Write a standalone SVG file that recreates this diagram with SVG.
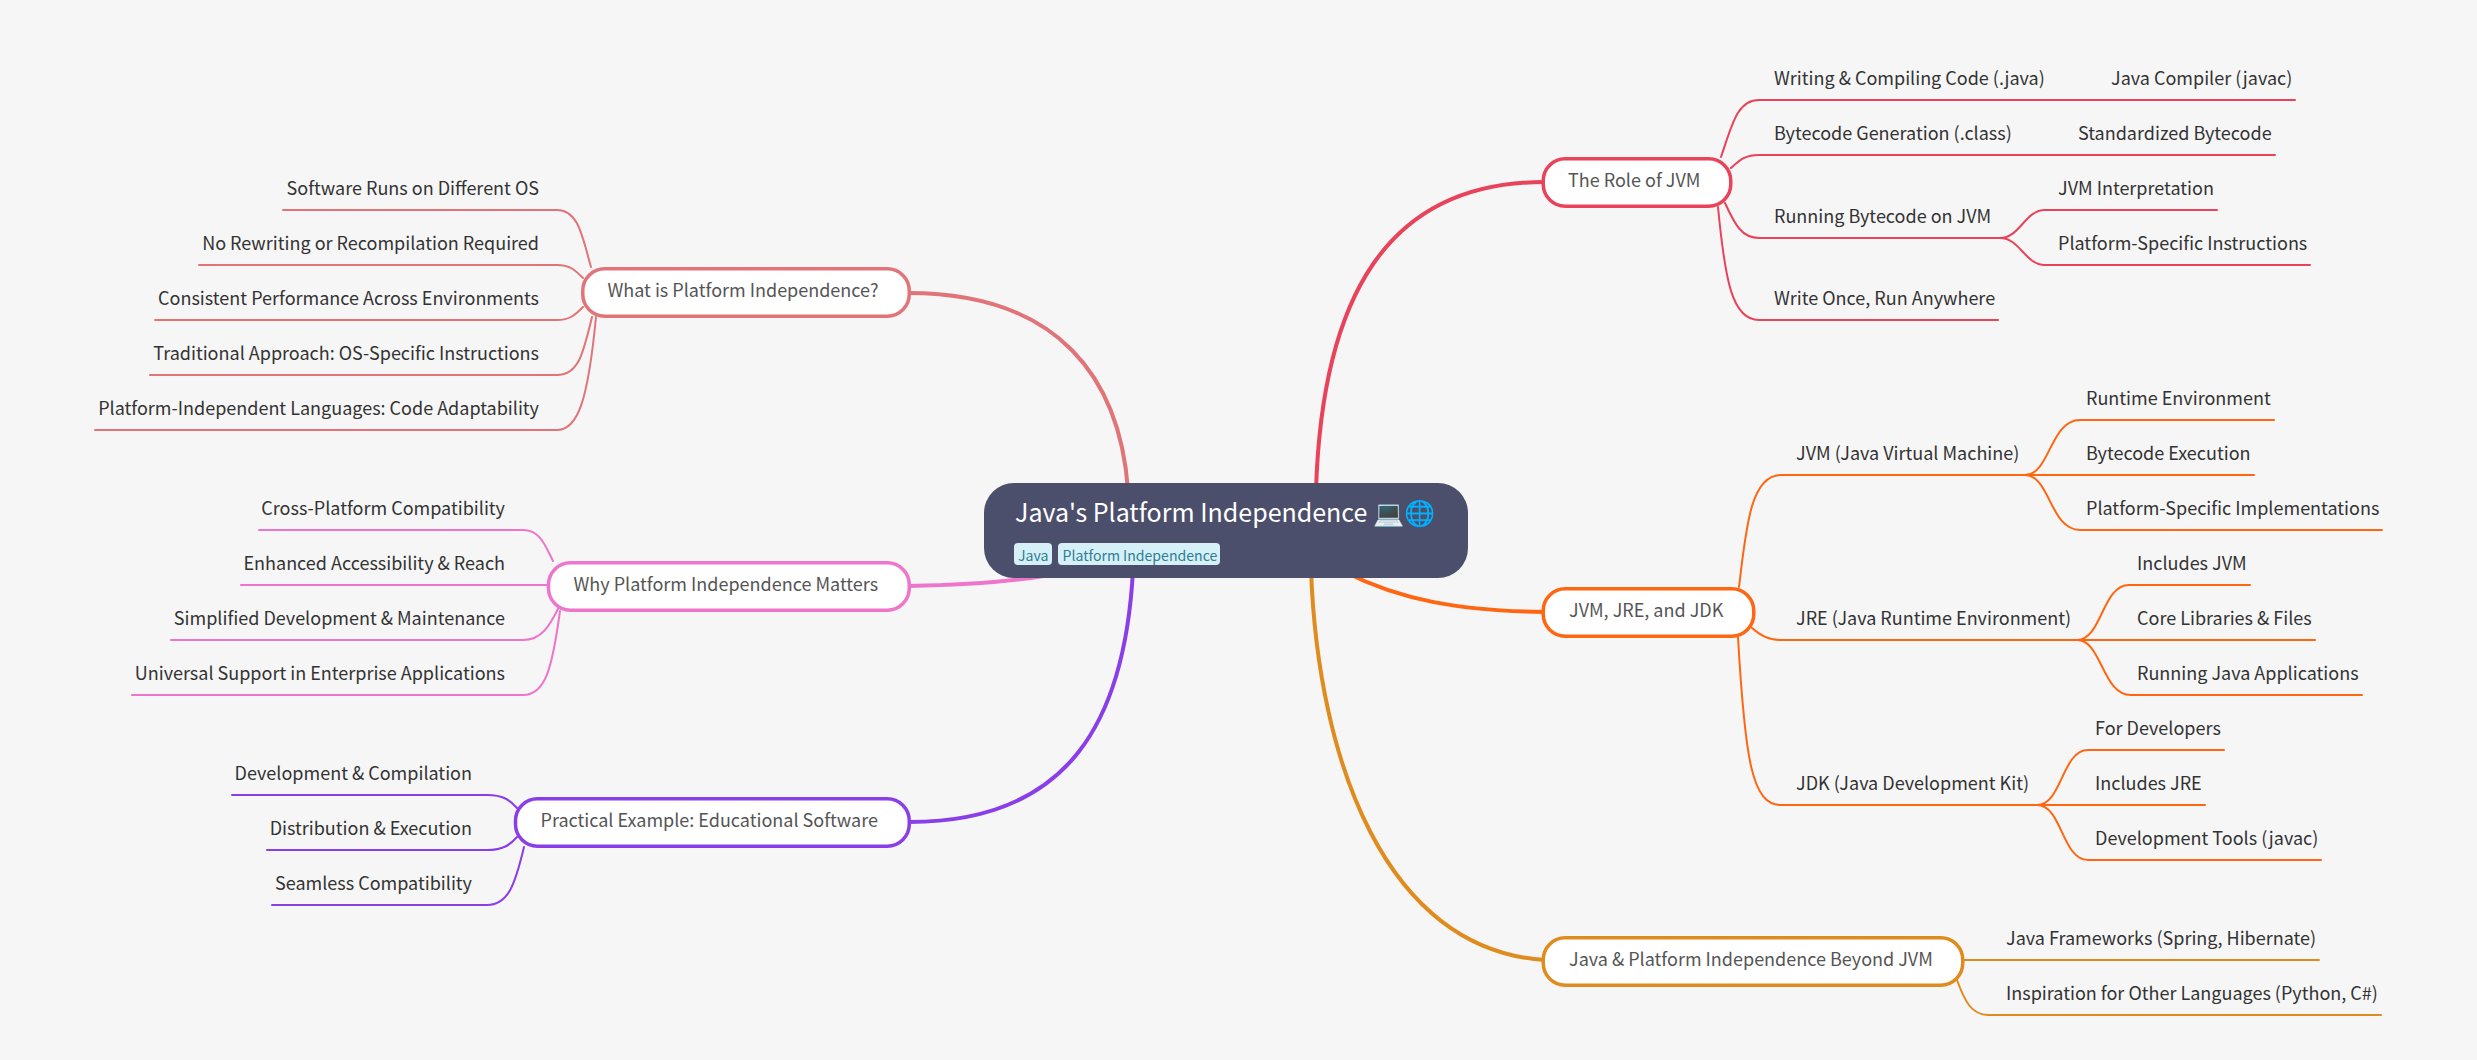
<svg xmlns="http://www.w3.org/2000/svg" width="2477" height="1060" viewBox="0 0 2477 1060">
<style>
text{font-family:"Noto Sans CJK SC","Noto Sans",sans-serif}
.l{font-size:18px;fill:#333}
.e{text-anchor:end}
.n{font-size:18px;fill:#555}
.c path{fill:none;stroke-width:2;stroke-linecap:round}
.c path.m{stroke-width:4}
.b{fill:#fff;stroke-width:3.5}
.tag{fill:#d6f0f7}
.tt{font-size:14.1px;fill:#2f7d96}
.red{stroke:#e8435a}.org{stroke:#ff6611}.amb{stroke:#e08b1e}.sal{stroke:#e07478}.pnk{stroke:#ee75cc}.pur{stroke:#8a3ee8}
</style>
<rect width="2477" height="1060" fill="#f6f6f6"/>
<g id="connectors" class="c">
<path class="m red" d="M1316 490C1322 300 1385 182 1544 182"/>
<path class="m org" d="M1345 572C1400 600 1460 611 1545 612"/>
<path class="m amb" d="M1311 570C1318 760 1385 950 1545 960"/>
<path class="m sal" d="M1128 490C1120 380 1060 293 908 293"/>
<path class="m pnk" d="M1050 575C1010 582 970 585 909 586"/>
<path class="m pur" d="M1133 570C1125 720 1070 822 909 822"/>
<path class="red" d="M1721 157C1732 125 1737 100 1759 100H2295"/>
<path class="red" d="M1731 168C1740 160 1745 155 1759 155H2275"/>
<path class="red" d="M1725 203C1735 225 1742 238 1759 238H2000C2020 238 2025 210 2045 210H2217"/>
<path class="red" d="M2000 238C2020 238 2025 265 2045 265H2310"/>
<path class="red" d="M1718 207C1725 280 1732 320 1759 320H1998"/>
<path class="org" d="M1739 587C1746 530 1750 475 1781 475H2025C2050 475 2050 420 2080 420H2274"/>
<path class="org" d="M2025 475H2254"/>
<path class="org" d="M2025 475C2050 475 2050 530 2080 530H2382"/>
<path class="org" d="M1752 628C1760 635 1768 640 1781 640H2077C2102 640 2102 585 2129 585H2250"/>
<path class="org" d="M2077 640H2315"/>
<path class="org" d="M2077 640C2102 640 2102 695 2131 695H2362"/>
<path class="org" d="M1738 637C1745 760 1752 805 1781 805H2037C2062 805 2062 750 2088 750H2224"/>
<path class="org" d="M2037 805H2205"/>
<path class="org" d="M2037 805C2062 805 2062 860 2088 860H2321"/>
<path class="amb" d="M1963 960H2319"/>
<path class="amb" d="M1957 980C1965 1002 1972 1015 1988 1015H2381"/>
<path class="sal" d="M591 267C582 235 578 210 557 210H283"/>
<path class="sal" d="M583 278C575 270 570 265 557 265H199"/>
<path class="sal" d="M583 307C575 315 570 320 557 320H155"/>
<path class="sal" d="M592 317C583 355 578 375 557 375H150"/>
<path class="sal" d="M596 317C588 400 578 430 557 430H95"/>
<path class="pnk" d="M553 561C545 545 540 530 523 530H259"/>
<path class="pnk" d="M548 585H241"/>
<path class="pnk" d="M559 607C550 625 542 640 523 640H171"/>
<path class="pnk" d="M560 611C552 670 545 695 523 695H132"/>
<path class="pur" d="M517 808C510 800 503 795 487 795H232"/>
<path class="pur" d="M517 837C510 845 503 850 487 850H267"/>
<path class="pur" d="M524 847C515 885 508 905 487 905H272"/>
</g>
<g id="center"><rect x="984" y="483" width="484" height="95" rx="30" fill="#4c4f6b"/>
<text x="1015" y="522" font-size="25" fill="#fff">Java's Platform Independence 💻🌐</text>
<rect class="tag" x="1014" y="543" width="38" height="22" rx="4"/><text class="tt" x="1018" y="561">Java</text>
<rect class="tag" x="1058" y="543" width="162" height="22" rx="4"/><text class="tt" x="1062.5" y="561">Platform Independence</text></g>
<g id="n-role"><rect class="b red" x="1543.25" y="158.75" width="187.5" height="47.5" rx="22"/><text class="n" x="1568" y="187">The Role of JVM</text></g>
<g id="n-jvm"><rect class="b org" x="1543.25" y="588.75" width="210.5" height="47.5" rx="22"/><text class="n" x="1569" y="617">JVM, JRE, and JDK</text></g>
<g id="n-beyond"><rect class="b amb" x="1543.25" y="937.75" width="419.5" height="47.5" rx="22"/><text class="n" x="1569" y="966">Java &amp; Platform Independence Beyond JVM</text></g>
<g id="n-what"><rect class="b sal" x="582.75" y="268.75" width="326.5" height="47.5" rx="22"/><text class="n" x="607.5" y="297">What is Platform Independence?</text></g>
<g id="n-why"><rect class="b pnk" x="548.5" y="562.75" width="360.75" height="47.5" rx="22"/><text class="n" x="573.5" y="591">Why Platform Independence Matters</text></g>
<g id="n-prac"><rect class="b pur" x="515.5" y="798.75" width="393.75" height="47.5" rx="22"/><text class="n" x="540.5" y="827">Practical Example: Educational Software</text></g>
<g id="l1"><text class="l" x="1774" y="85">Writing &amp; Compiling Code (.java)</text></g>
<g id="l2"><text class="l" x="2111" y="85">Java Compiler (javac)</text></g>
<g id="l3"><text class="l" x="1774" y="140">Bytecode Generation (.class)</text></g>
<g id="l4"><text class="l" x="2078" y="140">Standardized Bytecode</text></g>
<g id="l5"><text class="l" x="1774" y="223">Running Bytecode on JVM</text></g>
<g id="l6"><text class="l" x="2058" y="195">JVM Interpretation</text></g>
<g id="l7"><text class="l" x="2058" y="250">Platform-Specific Instructions</text></g>
<g id="l8"><text class="l" x="1774" y="305">Write Once, Run Anywhere</text></g>
<g id="l9"><text class="l" x="1796" y="460">JVM (Java Virtual Machine)</text></g>
<g id="l10"><text class="l" x="2086" y="405">Runtime Environment</text></g>
<g id="l11"><text class="l" x="2086" y="460">Bytecode Execution</text></g>
<g id="l12"><text class="l" x="2086" y="515">Platform-Specific Implementations</text></g>
<g id="l13"><text class="l" x="1796" y="625">JRE (Java Runtime Environment)</text></g>
<g id="l14"><text class="l" x="2137" y="570">Includes JVM</text></g>
<g id="l15"><text class="l" x="2137" y="625">Core Libraries &amp; Files</text></g>
<g id="l16"><text class="l" x="2137" y="680">Running Java Applications</text></g>
<g id="l17"><text class="l" x="1796" y="790">JDK (Java Development Kit)</text></g>
<g id="l18"><text class="l" x="2095" y="735">For Developers</text></g>
<g id="l19"><text class="l" x="2095" y="790">Includes JRE</text></g>
<g id="l20"><text class="l" x="2095" y="845">Development Tools (javac)</text></g>
<g id="l21"><text class="l" x="2006" y="945">Java Frameworks (Spring, Hibernate)</text></g>
<g id="l22"><text class="l" x="2006" y="1000">Inspiration for Other Languages (Python, C#)</text></g>
<g id="l23"><text class="l e" x="539" y="195">Software Runs on Different OS</text></g>
<g id="l24"><text class="l e" x="539" y="250">No Rewriting or Recompilation Required</text></g>
<g id="l25"><text class="l e" x="539" y="305">Consistent Performance Across Environments</text></g>
<g id="l26"><text class="l e" x="539" y="360">Traditional Approach: OS-Specific Instructions</text></g>
<g id="l27"><text class="l e" x="539" y="415">Platform-Independent Languages: Code Adaptability</text></g>
<g id="l28"><text class="l e" x="505" y="515">Cross-Platform Compatibility</text></g>
<g id="l29"><text class="l e" x="505" y="570">Enhanced Accessibility &amp; Reach</text></g>
<g id="l30"><text class="l e" x="505" y="625">Simplified Development &amp; Maintenance</text></g>
<g id="l31"><text class="l e" x="505" y="680">Universal Support in Enterprise Applications</text></g>
<g id="l32"><text class="l e" x="472" y="780">Development &amp; Compilation</text></g>
<g id="l33"><text class="l e" x="472" y="835">Distribution &amp; Execution</text></g>
<g id="l34"><text class="l e" x="472" y="890">Seamless Compatibility</text></g>
</svg>
